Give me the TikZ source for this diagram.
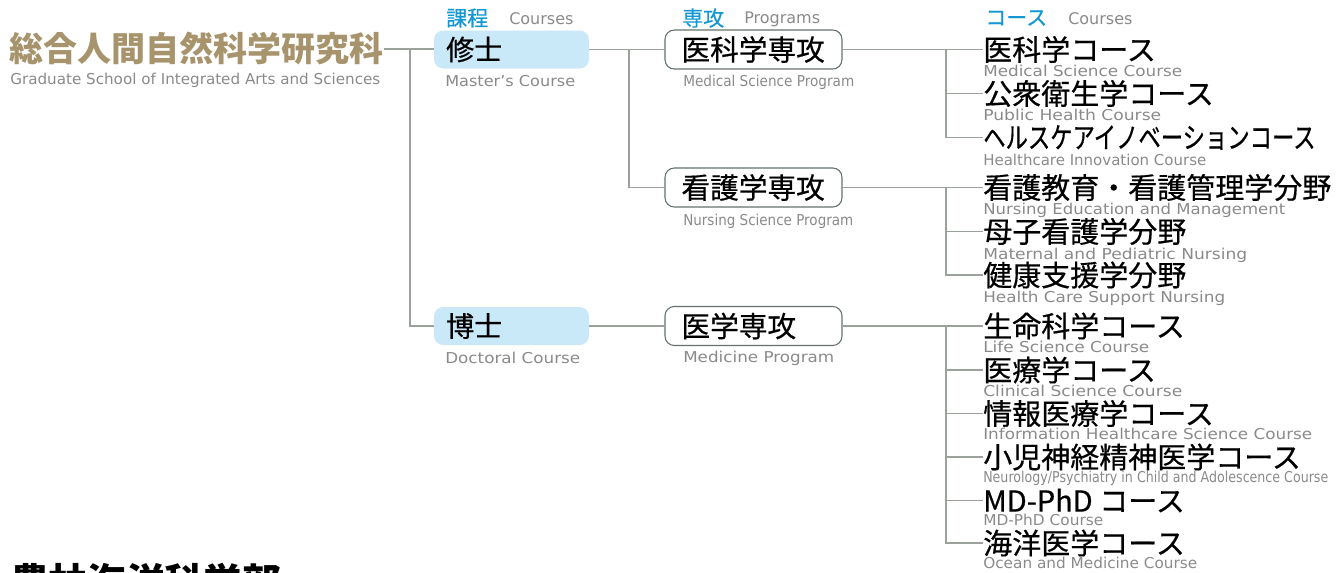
\documentclass[tikz,border=0pt]{standalone}
\usepackage{graphicx}
\usepackage{fontspec}
\setmainfont{DejaVu Sans}
\newfontfamily\jp{Noto Sans CJK JP}
\newfontfamily\jpm{Noto Sans CJK JP}[FakeBold=0.5]
\newfontfamily\jpnarrow{Noto Sans CJK JP}[FakeStretch=0.77, FakeBold=0.5]
\usetikzlibrary{positioning}

\definecolor{gradgold}{RGB}{168,148,108}
\definecolor{headblue}{RGB}{20,152,212}
\definecolor{subgray}{RGB}{138,138,138}
\definecolor{linkgray}{RGB}{155,162,155}
\definecolor{degreeblue}{RGB}{201,232,248}
\definecolor{progline}{RGB}{100,114,106}

\newdimen\pxu \pxu=0.75pt
\newcommand{\fitw}[2]{\resizebox{#1\pxu}{\height}{#2}}

\begin{document}
\begin{tikzpicture}[x=0.75pt, y=-0.75pt,
    link/.style={draw=linkgray, line width=1pt},
    degree/.style={fill=degreeblue, rounded corners=7pt, minimum width=116.25pt,
        minimum height=28.5pt, text width=98pt, inner xsep=9pt, inner ysep=0pt,
        align=left, font=\jpm\fontsize{21}{24}\selectfont},
    program/.style={draw=progline, line width=0.8pt, fill=white, rounded corners=7pt,
        minimum width=132.75pt, minimum height=29.25pt, text width=108pt,
        inner xsep=12pt, inner ysep=0pt, align=left, font=\jpm\fontsize{21.5}{24}\selectfont},
    course/.style={anchor=west, inner sep=0pt, font=\jpm\fontsize{21.75}{24}\selectfont},
    sub/.style={anchor=base west, inner sep=0pt, text=subgray, font=\fontsize{11.25}{13}\selectfont},
    head/.style={anchor=west, inner sep=0pt, text=headblue, font=\jpm\fontsize{15.75}{18}\selectfont},
    headen/.style={anchor=west, inner sep=0pt, text=subgray, font=\fontsize{12}{14}\selectfont}]

    \clip (0,0) rectangle (1340,572);

    % school
    \node[anchor=west, inner sep=0pt, text=gradgold, font=\jp\bfseries\fontsize{25.5}{28}\selectfont]
        (school) at (9,49) {総合人間自然科学研究科};
    \node[sub] (schoolen) at (10,84) {\fitw{370}{Graduate School of Integrated Arts and Sciences}};

    % column headers
    \node[head] (hdeg) at (446,18) {課程};
    \node[headen] (hdegen) at (509,19) {Courses};
    \node[head] (hprog) at (682,18) {専攻};
    \node[headen] (hprogen) at (744,19) {Programs};
    \node[head] (hcrs) at (985,18) {コース};
    \node[headen] (hcrsen) at (1068,19) {Courses};

    % degrees
    \node[degree] (master) at (511.5,49.5) {修士};
    \node[sub] (masteren) at (445,86) {\fitw{130}{Master's Course}};
    \node[degree] (doctor) at (511.5,326) {博士};
    \node[sub] (doctoren) at (445,363) {\fitw{135}{Doctoral Course}};

    % programs
    \node[program] (medsci) at (753.5,49.5) {医科学専攻};
    \node[sub] (medscien) at (683,86) {\fitw{171}{Medical Science Program}};
    \node[program] (nursing) at (753.5,187.5) {看護学専攻};
    \node[sub] (nursingen) at (683,225) {\fitw{170}{Nursing Science Program}};
    \node[program] (medicine) at (753.5,326) {医学専攻};
    \node[sub] (medicineen) at (683,362) {\fitw{151}{Medicine Program}};

    % courses
    \foreach \n/\y/\d/\jtext/\w/\etext in {
        a1/49.5/27/医科学コース/199/Medical Science Course,
        a2/93.5/27/公衆衛生学コース/178/Public Health Course,
        a3/137.5/27.5/{\jpnarrow ヘルスケアイノベーションコース}/223/Healthcare Innovation Course,
        b1/187.5/27/看護教育・看護管理学分野/302/Nursing Education and Management,
        b2/231.5/27.5/母子看護学分野/264/Maternal and Pediatric Nursing,
        b3/275/27/健康支援学分野/242/Health Care Support Nursing,
        c1/326/26/生命科学コース/166/Life Science Course,
        c2/370/26/医療学コース/199/Clinical Science Course,
        c3/413.5/25.5/情報医療学コース/329/Information Healthcare Science Course,
        c4/457/25/小児神経精神医学コース/345/{Neurology/Psychiatry in Child and Adolescence Course},
        c5/500.5/25/MD-PhD コース/120/MD-PhD Course,
        c6/543/25/海洋医学コース/214/Ocean and Medicine Course}{
        \node[course] (\n) at (983,\y) {\jtext};
        \node[sub] (\n-en) at (983,\y+\d) {\fitw{\w}{\etext}};
    }

    % tree lines
    \coordinate (jdeg) at (410,49);
    \coordinate (jprog) at (629,49.5);
    \coordinate (ja) at (946,49.5);
    \coordinate (jb) at (946,187.5);
    \coordinate (jc) at (946,326);

    \draw[link] (school.east) -- (school.east -| master.west);
    \draw[link] (jdeg) |- (doctor.west);
    \draw[link] (master.east) -- (medsci.west);
    \draw[link] (jprog) |- (nursing.west);
    \draw[link] (doctor.east) -- (medicine.west);

    \draw[link] (medsci.east) -- (medsci.east -| a1.west);
    \draw[link] (ja) |- (a3.west);
    \draw[link] (a2.west -| ja) -- (a2.west);

    \draw[link] (nursing.east) -- (nursing.east -| b1.west);
    \draw[link] (jb) |- (b3.west);
    \draw[link] (b2.west -| jb) -- (b2.west);

    \draw[link] (medicine.east) -- (medicine.east -| c1.west);
    \draw[link] (jc) |- (c6.west);
    \foreach \n in {c2,c3,c4,c5}
        \draw[link] (\n.west -| jc) -- (\n.west);

    % next faculty, cut by the page edge
    \node[anchor=base west, inner sep=0pt, font=\jp\bfseries\fontsize{29}{32}\selectfont]
        (faculty) at (10,596) {農林海洋科学部};
\end{tikzpicture}
\end{document}
